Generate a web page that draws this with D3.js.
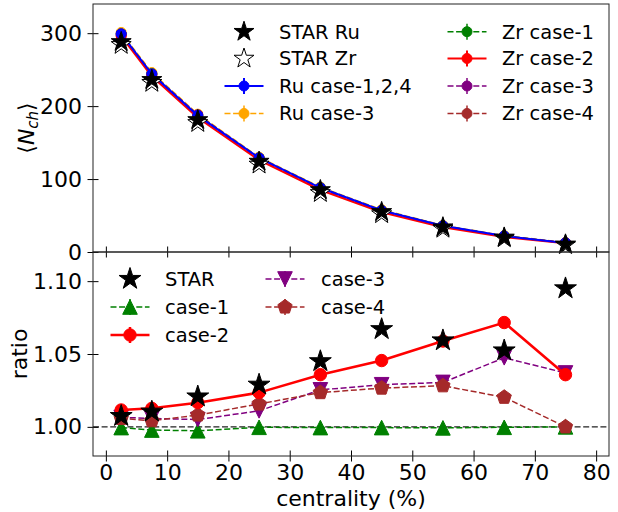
<!DOCTYPE html>
<html>
<head>
<meta charset="utf-8">
<script src="https://cdn.jsdelivr.net/npm/d3@7"></script>
<style>
body { margin: 0; background: #fff; }
text { font-family: "DejaVu Sans", sans-serif; fill: #000; }
</style>
</head>
<body>
<svg id="chart" width="618" height="512"></svg>
<script>
// centrality bins (%)
const centrality = [2.5, 7.5, 15, 25, 35, 45, 55, 65, 75];

// top panel: <N_ch>
const starRu = [288, 236, 181, 124, 85, 55, 34, 20, 10.5];
const starZr = [284, 232, 177, 120, 81, 52, 32, 19, 9.5];
const ruCase124 = [299, 244, 187, 129, 88, 57, 36, 22, 12.5];
const ruCase3 = [301, 246, 189, 130, 89, 58, 36.5, 22.5, 13];
const zrCase1 = [299, 244.5, 187.5, 129, 88, 57, 36, 22, 12.5];
const zrCase2 = [296, 241, 184, 126, 85, 54.5, 34, 20.5, 12];
const zrCase3 = [299, 244, 188, 128.5, 87, 56.5, 35.5, 21.5, 12.5];
const zrCase4 = [297, 243, 185.5, 127, 86, 55.5, 35, 21.5, 12.5];

// bottom panel: Ru/Zr ratio
const ratioStar = [1.0074, 1.0104, 1.0208, 1.0289, 1.0450, 1.0670, 1.0593, 1.0524, 1.0950];
const ratioCase1 = [0.9995, 0.9978, 0.9973, 0.9997, 0.9995, 0.9995, 0.9993, 0.9997, 1.0];
const ratioCase2 = [1.0116, 1.0127, 1.0166, 1.0235, 1.0358, 1.0455, 1.0589, 1.0716, 1.0358];
const ratioCase3 = [1.0065, 1.0058, 1.0050, 1.0110, 1.0254, 1.0289, 1.0305, 1.0474, 1.0370];
const ratioCase4 = [1.0058, 1.0042, 1.0081, 1.0157, 1.0235, 1.0266, 1.0282, 1.0203, 1.0000];

const xTicks = [0, 10, 20, 30, 40, 50, 60, 70, 80];
const yTopTicks = [0, 100, 200, 300];
const yBotTicks = [1.00, 1.05, 1.10];

const svg = d3.select("#chart");
const L = 93, R = 609;
const topT = 4, topB = 252, botT = 252, botB = 456;
const TICK_FONT = 22, LEG_FONT = 19.5;

const x = d3.scaleLinear().domain([-2.1, 82.1]).range([L, R]);
const yTop = d3.scaleLinear().domain([0, 340]).range([topB, topT]);
const yBot = d3.scaleLinear().domain([0.98, 1.12]).range([botB, botT]);

const DASH = "6,2.6";

// marker shapes
function starPath(r) {
  const pts = [];
  for (let i = 0; i < 10; i++) {
    const rr = i % 2 ? r * 0.381966 : r;
    const a = -Math.PI / 2 + i * Math.PI / 5;
    pts.push([rr * Math.cos(a), rr * Math.sin(a)]);
  }
  return "M" + pts.join("L") + "Z";
}
function pentPath(r) {
  const pts = [];
  for (let i = 0; i < 5; i++) {
    const a = -Math.PI / 2 + i * 2 * Math.PI / 5;
    pts.push([r * Math.cos(a), r * Math.sin(a)]);
  }
  return "M" + pts.join("L") + "Z";
}
function markerPath(type, s) {
  if (type === "star") return starPath(s);
  if (type === "tri") return `M0,${-s}L${-s},${s}L${s},${s}Z`;
  if (type === "tridown") return `M0,${s}L${-s},${-s}L${s},${-s}Z`;
  if (type === "pent") return pentPath(s);
  return d3.arc()({innerRadius: 0, outerRadius: s, startAngle: 0, endAngle: 2 * Math.PI});
}

function drawSeries(g, ys, yScale, opt) {
  const pts = centrality.map((c, i) => [x(c), yScale(ys[i])]);
  if (opt.color) {
    g.append("path")
      .attr("d", d3.line()(pts))
      .attr("fill", "none")
      .attr("stroke", opt.color)
      .attr("stroke-width", opt.width || 1.5)
      .attr("stroke-dasharray", opt.dash ? DASH : null);
  }
  g.selectAll(null).data(pts).enter().append("path")
    .attr("transform", d => `translate(${d[0]},${d[1]})`)
    .attr("d", markerPath(opt.marker, opt.size))
    .attr("fill", opt.fill || opt.color)
    .attr("stroke", opt.edge || opt.color)
    .attr("stroke-width", 1);
}

function legendItem(g, cx, cy, opt, label, textX) {
  if (opt.color) {
    g.append("line")
      .attr("x1", cx - 19.5).attr("x2", cx + 19.5).attr("y1", cy).attr("y2", cy)
      .attr("stroke", opt.color).attr("stroke-width", opt.width || 1.5)
      .attr("stroke-dasharray", opt.dash ? DASH : null);
    g.append("line")
      .attr("x1", cx).attr("x2", cx).attr("y1", cy - 8).attr("y2", cy + 8)
      .attr("stroke", opt.color).attr("stroke-width", opt.width || 1.5);
  }
  g.append("path")
    .attr("transform", `translate(${cx},${cy})`)
    .attr("d", markerPath(opt.marker, opt.size))
    .attr("fill", opt.fill || opt.color)
    .attr("stroke", opt.edge || opt.color)
    .attr("stroke-width", 1);
  g.append("text")
    .attr("x", textX).attr("y", cy).attr("dy", "0.35em")
    .attr("font-size", LEG_FONT)
    .text(label);
}

function drawAxes(yScale, yTicks, top, bottom, fmt, showX) {
  const gx = svg.append("g").attr("transform", `translate(0,${bottom})`)
    .call(d3.axisBottom(x).tickValues(xTicks).tickSize(5.5).tickPadding(3)
      .tickFormat(showX ? d3.format("d") : ""));
  gx.selectAll(".tick line").attr("y1", -5.5).attr("stroke", "#000").attr("stroke-width", 1);
  gx.select(".domain").remove();
  gx.selectAll("text").attr("font-size", TICK_FONT).attr("font-family", "DejaVu Sans").attr("fill", "#000");

  const gy = svg.append("g").attr("transform", `translate(${L},0)`)
    .call(d3.axisLeft(yScale).tickValues(yTicks).tickSize(5.5).tickPadding(5.5).tickFormat(fmt));
  gy.selectAll(".tick line").attr("x1", 5.5).attr("stroke", "#000").attr("stroke-width", 1);
  gy.select(".domain").remove();
  gy.selectAll("text").attr("font-size", TICK_FONT).attr("font-family", "DejaVu Sans").attr("fill", "#000");

  svg.append("rect")
    .attr("x", L).attr("y", top).attr("width", R - L).attr("height", bottom - top)
    .attr("fill", "none").attr("stroke", "#222").attr("stroke-width", 1);
}

// ---------- top panel ----------
const gTop = svg.append("g");
const topSeries = [
  [ruCase3, {color: "orange", dash: true, width: 1.5, marker: "circle", size: 5}],
  [zrCase1, {color: "green", dash: true, width: 1.5, marker: "circle", size: 5}],
  [zrCase3, {color: "purple", dash: true, width: 1.5, marker: "circle", size: 5}],
  [zrCase4, {color: "brown", dash: true, width: 1.5, marker: "circle", size: 5}],
  [zrCase2, {color: "red", width: 2, marker: "circle", size: 5}],
  [ruCase124, {color: "blue", width: 2, marker: "circle", size: 5}]
];
topSeries.forEach(s => drawSeries(gTop, s[0], yTop, s[1]));
drawSeries(gTop, starZr, yTop, {marker: "star", size: 10.5, fill: "#fff", edge: "#000"});
drawSeries(gTop, starRu, yTop, {marker: "star", size: 10.5, fill: "#000", edge: "#000"});

drawAxes(yTop, yTopTicks, topT, topB, d3.format("d"), false);

const legTop = svg.append("g");
const rowsTop = [31.7, 58.5, 86, 113.5];
legendItem(legTop, 244, rowsTop[0], {marker: "star", size: 10.5, fill: "#000", edge: "#000"}, "STAR Ru", 279);
legendItem(legTop, 244, rowsTop[1], {marker: "star", size: 10.5, fill: "#fff", edge: "#000"}, "STAR Zr", 279);
legendItem(legTop, 244, rowsTop[2], {color: "blue", width: 2, marker: "circle", size: 5}, "Ru case-1,2,4", 279);
legendItem(legTop, 244, rowsTop[3], {color: "orange", dash: true, marker: "circle", size: 5}, "Ru case-3", 279);
legendItem(legTop, 467, rowsTop[0], {color: "green", dash: true, marker: "circle", size: 5}, "Zr case-1", 502);
legendItem(legTop, 467, rowsTop[1], {color: "red", width: 2, marker: "circle", size: 5}, "Zr case-2", 502);
legendItem(legTop, 467, rowsTop[2], {color: "purple", dash: true, marker: "circle", size: 5}, "Zr case-3", 502);
legendItem(legTop, 467, rowsTop[3], {color: "brown", dash: true, marker: "circle", size: 5}, "Zr case-4", 502);

// y label top
svg.append("text")
  .attr("transform", `translate(34,${(topT + topB) / 2}) rotate(-90)`)
  .attr("text-anchor", "middle")
  .attr("font-size", TICK_FONT)
  .html('⟨<tspan font-style="italic">N</tspan><tspan font-style="italic" font-size="15" dy="4">ch</tspan><tspan dy="-4">⟩</tspan>');

// ---------- bottom panel ----------
const gBot = svg.append("g");
gBot.append("line")
  .attr("x1", L).attr("x2", R).attr("y1", yBot(1)).attr("y2", yBot(1))
  .attr("stroke", "#222").attr("stroke-width", 1.2).attr("stroke-dasharray", DASH);

const optCase1 = {color: "green", dash: true, width: 1.5, marker: "tri", size: 7.3};
const optCase2 = {color: "red", width: 2.5, marker: "circle", size: 6.2};
const optCase3 = {color: "purple", dash: true, width: 1.5, marker: "tridown", size: 7.3};
const optCase4 = {color: "brown", dash: true, width: 1.5, marker: "pent", size: 7.5};
const optStar = {marker: "star", size: 11.5, fill: "#000", edge: "#000"};

drawSeries(gBot, ratioCase1, yBot, optCase1);
drawSeries(gBot, ratioCase3, yBot, optCase3);
drawSeries(gBot, ratioCase4, yBot, optCase4);
drawSeries(gBot, ratioCase2, yBot, optCase2);
drawSeries(gBot, ratioStar, yBot, optStar);

drawAxes(yBot, yBotTicks, botT, botB, d3.format(".2f"), true);

const legBot = svg.append("g");
legendItem(legBot, 130, 279, optStar, "STAR", 165);
legendItem(legBot, 130, 307, optCase1, "case-1", 165);
legendItem(legBot, 130, 335, optCase2, "case-2", 165);
legendItem(legBot, 285, 279, optCase3, "case-3", 321);
legendItem(legBot, 285, 307, optCase4, "case-4", 321);

svg.append("text")
  .attr("transform", `translate(27,${(botT + botB) / 2}) rotate(-90)`)
  .attr("text-anchor", "middle")
  .attr("font-size", TICK_FONT)
  .text("ratio");

svg.append("text")
  .attr("x", (L + R) / 2).attr("y", 506)
  .attr("text-anchor", "middle")
  .attr("font-size", TICK_FONT)
  .text("centrality (%)");
</script>
</body>
</html>
